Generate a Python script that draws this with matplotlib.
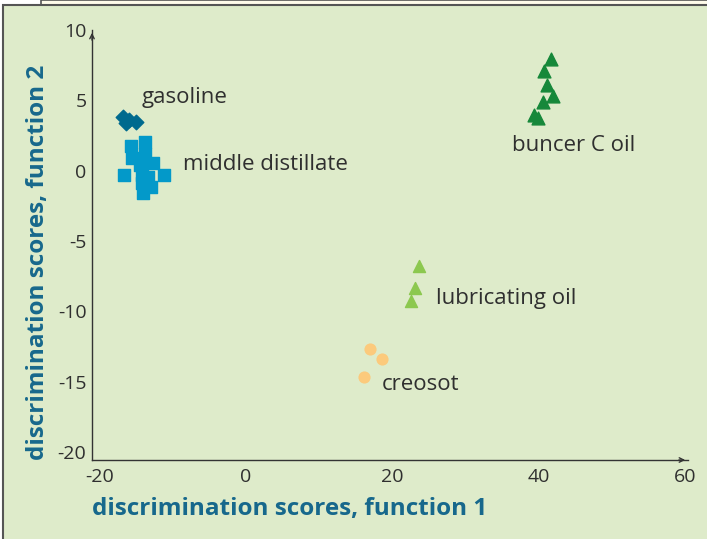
import matplotlib.pyplot as plt
from matplotlib.patches import Rectangle

plt.rcParams['axes.unicode_minus'] = False

# data
gas_x = [-16.8, -16.0, -16.3, -15.0]
gas_y = [3.82, 3.60, 3.39, 3.46]

mid_x = [-15.7, -13.8, -15.5, -13.8, -14.5, -12.7, -16.6, -11.1, -14.2, -13.3, -14.2, -13.0, -14.1]
mid_y = [1.76, 2.04, 0.90, 1.19, 0.41, 0.55, -0.31, -0.31, -0.31, -0.45, -0.87, -1.16, -1.58]

bunc_x = [41.7, 40.8, 41.2, 41.9, 40.6, 39.3, 39.9]
bunc_y = [7.94, 7.09, 6.09, 5.31, 4.88, 3.96, 3.75]

lub_x = [23.7, 23.1, 22.6]
lub_y = [-6.77, -8.34, -9.26]

creo_x = [17.0, 18.6, 16.1]
creo_y = [-12.67, -13.38, -14.66]

group_names = ["gasoline", "middle distillate", "buncer C oil", "lubricating oil", "creosot"]
name_pos = [(-14.2, 5.2), (-8.6, 0.45), (36.4, 1.8), (26.0, -9.05), (18.6, -15.2)]

xticks = [-20, 0, 20, 40, 60]
yticks = [10, 5, 0, -5, -10, -15, -20]

bg = "#deebca"
txt = "#2f2f2f"
teal = "#17688c"

fig = plt.figure(figsize=(7.07, 5.39), dpi=100)
W, H = 707, 539

# frame of the panel
fig.patches.append(Rectangle((0, 0), 1, 1, transform=fig.transFigure, facecolor="white", edgecolor="none", zorder=-3))
fig.patches.append(Rectangle((41 / W, 1 - 5 / H), 1, 5 / H, transform=fig.transFigure,
                             facecolor="#fffbea", edgecolor="#555555", lw=1.2, zorder=-2))
fig.patches.append(Rectangle((3 / W, -0.1), 1.2, 1 - 5 / H + 0.1, transform=fig.transFigure,
                             facecolor=bg, edgecolor="#555555", lw=1.5, zorder=-1))

ax = fig.add_axes([92 / W, 79 / H, 596 / W, 430 / H])
ax.set_facecolor("none")
ax.set_xlim(-21, 60.4)
ax.set_ylim(-20.56, 10)

ax.scatter(gas_x, gas_y, marker="D", s=55, color="#006a8e", zorder=3)
ax.scatter(mid_x, mid_y, marker="s", s=72, color="#0399c9", zorder=3)
ax.scatter(bunc_x, bunc_y, marker="^", s=85, color="#16883a", zorder=3)
ax.scatter(lub_x, lub_y, marker="^", s=75, color="#8cc84f", zorder=3)
ax.scatter(creo_x, creo_y, marker="o", s=60, color="#fcca7c", zorder=3)

for name, (px, py) in zip(group_names, name_pos):
    ax.text(px, py, name, fontsize=16, color=txt, ha="left", va="center", family="Open Sans")

for s in ["top", "right"]:
    ax.spines[s].set_visible(False)
for s in ["left", "bottom"]:
    ax.spines[s].set_color("#333333")
    ax.spines[s].set_linewidth(1.0)

# little arrow heads at the axis ends
ax.annotate("", xy=(1.0, 0), xytext=(0.98, 0), xycoords="axes fraction",
            arrowprops=dict(arrowstyle="->", color="#333333", lw=1.0, mutation_scale=8))
ax.annotate("", xy=(0, 1.0), xytext=(0, 0.97), xycoords="axes fraction",
            arrowprops=dict(arrowstyle="->", color="#333333", lw=1.0, mutation_scale=8))

ax.set_xticks(xticks)
ax.set_yticks(yticks)
ax.tick_params(length=0, labelsize=14, colors=txt)
ax.tick_params(axis="x", pad=6)
ax.tick_params(axis="y", pad=4)
for lab in ax.get_xticklabels() + ax.get_yticklabels():
    lab.set_family("Open Sans")

ax.set_xlabel("discrimination scores, function 1", fontsize=17.5, fontweight="bold",
              color=teal, family="Open Sans", loc="left", labelpad=8)
ax.set_ylabel("discrimination scores, function 2", fontsize=17.5, fontweight="bold",
              color=teal, family="Open Sans")
ax.yaxis.set_label_coords(-0.07, 0.46)

fig.savefig("out.png", dpi=100)
